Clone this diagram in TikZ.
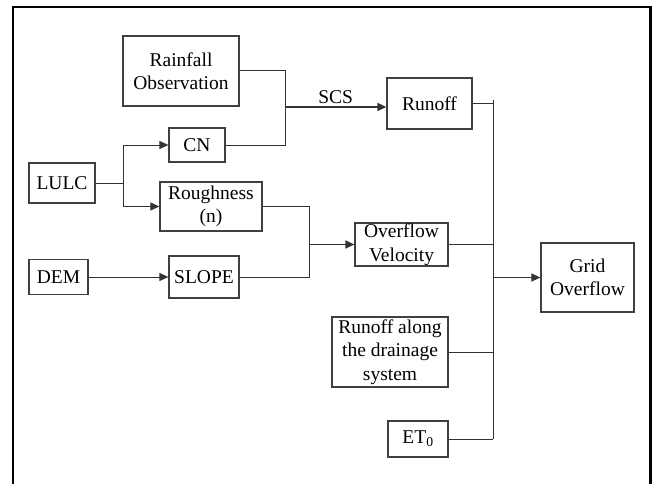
\documentclass[tikz,border=0pt]{standalone}
\usepackage{fontspec}
\setmainfont{Liberation Serif}
\usetikzlibrary{arrows.meta}
\begin{document}
\begin{tikzpicture}[x=1pt,y=-1pt,
  box/.style={draw=black!75,line width=1.2pt,minimum width=#1,inner sep=0pt,align=center,
    font=\fontsize{19.5}{23.5}\selectfont},
  conn/.style={draw=black!80,line width=1pt},
  arr/.style={conn,-{Triangle[length=9pt,width=8pt]}}]
\useasboundingbox (0,0) rectangle (652,484);
\draw[line width=2.5pt] (13,484) -- (13,7) -- (650.5,7) -- (650.5,484);
\node[box=116pt,minimum height=70pt] (rain) at (181,71) {Rainfall\\Observation};
\node[box=56pt,minimum height=34pt] (cn) at (197,145) {CN};
\node[box=66pt,minimum height=40pt] (lulc) at (62,183) {LULC};
\node[box=102pt,minimum height=49pt] (rough) at (211,206.5) {Roughness\\(n)};
\node[box=59pt,minimum height=35pt] (dem) at (58.5,277) {DEM};
\node[box=70pt,minimum height=42pt] (slope) at (204,277) {SLOPE};
\node[box=85pt,minimum height=51pt] (runoff) at (429.5,103.5) {Runoff};
\node[box=93pt,minimum height=43pt] (ov) at (401.5,244.5) {Overflow\\Velocity};
\node[box=93pt,minimum height=69pt] (grid) at (587.5,277.5) {Grid\\Overflow};
\node[box=116pt,minimum height=70pt] (drain) at (390,352) {Runoff along\\the drainage\\system};
\node[box=60pt,minimum height=36pt] (et) at (418,439) {ET\textsubscript{0}};
% junction coordinates
\coordinate (j1) at (285,107);
\coordinate (jl) at (123,183);
\coordinate (j2) at (309,244.5);
\coordinate (btop) at (493,100);
\coordinate (bbot) at (493,439);
\coordinate (bg) at (493,277.5);
% rainfall + CN -> runoff
\draw[conn] (rain.east) -| (j1);
\draw[conn] (cn.east) -| (j1);
\draw[arr,line width=1.6pt] (j1) -- node[above=-1pt,pos=0.5,font=\fontsize{19.5}{23.5}\selectfont] {SCS} (j1 -| runoff.west);
% LULC
\draw[conn] (lulc.east) -- (jl);
\draw[arr] (jl) |- (cn.west);
\draw[arr] (jl) |- (rough.west);
% roughness + slope -> overflow velocity
\draw[conn] (rough.east) -| (j2);
\draw[conn] (slope.east) -| (j2);
\draw[arr,line width=1.4pt] (j2) -- (ov.west);
\draw[arr] (dem.east) -- (slope.west);
% bus
\draw[conn] (btop) -- (bbot);
\draw[conn] (runoff.east) -- (runoff.east -| btop);
\draw[conn] (ov.east) -- (ov.east -| btop);
\draw[conn] (drain.east) -- (drain.east -| btop);
\draw[conn] (et.east) -- (bbot);
\draw[arr] (bg) -- (grid.west);
\end{tikzpicture}
\end{document}
